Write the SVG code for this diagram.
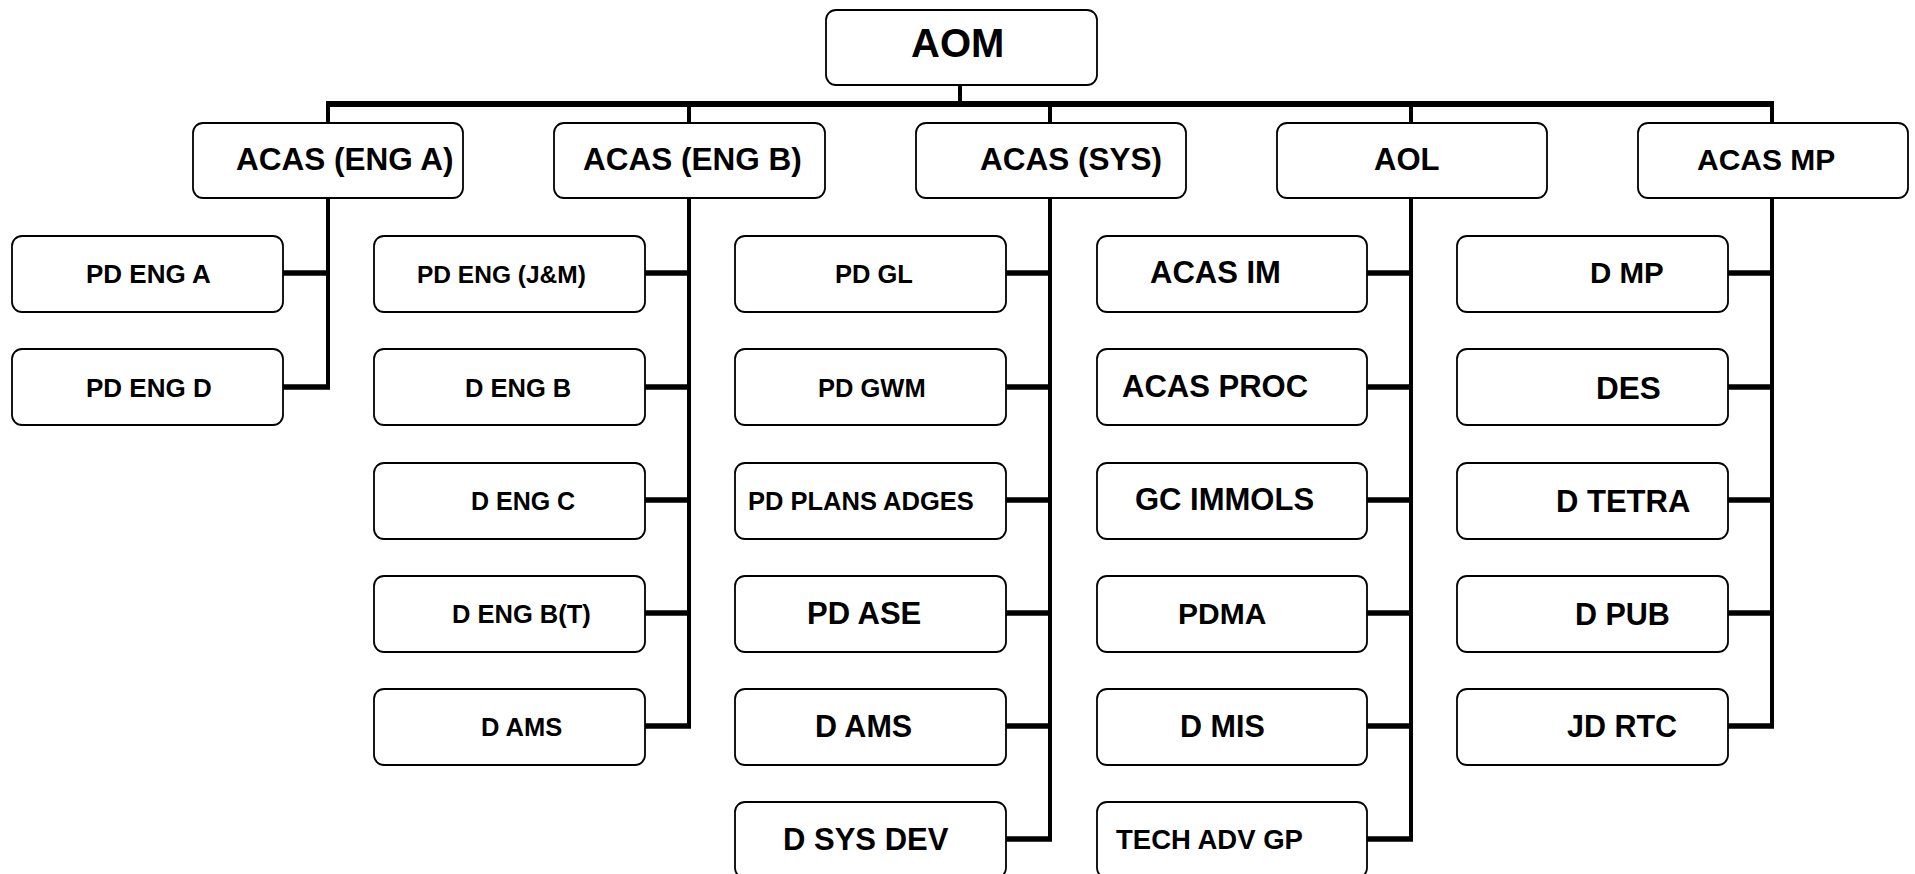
<svg xmlns="http://www.w3.org/2000/svg" width="1915" height="874" viewBox="0 0 1915 874">
<style>
.box{fill:#fff;stroke:#000;stroke-width:1.8}
.t{font-family:"Liberation Sans",Arial,sans-serif;font-weight:bold;fill:#000}
.bus{stroke:#000;stroke-width:6;fill:none}
.v{stroke:#000;stroke-width:4;fill:none}
.h{stroke:#000;stroke-width:5.5;fill:none}
</style>
<rect width="1915" height="874" fill="#fff"/>
<g id="connectors">
<line class="v" x1="960" y1="85" x2="960" y2="104"/>
<line class="bus" x1="326" y1="104" x2="1774" y2="104"/>
<line class="v" x1="328" y1="104" x2="328" y2="123"/>
<line class="v" x1="689" y1="104" x2="689" y2="123"/>
<line class="v" x1="1050" y1="104" x2="1050" y2="123"/>
<line class="v" x1="1411" y1="104" x2="1411" y2="123"/>
<line class="v" x1="1772" y1="104" x2="1772" y2="123"/>
<line class="v" x1="328" y1="198" x2="328" y2="389"/>
<line class="v" x1="689" y1="198" x2="689" y2="728"/>
<line class="v" x1="1050" y1="198" x2="1050" y2="841"/>
<line class="v" x1="1411" y1="198" x2="1411" y2="841"/>
<line class="v" x1="1772" y1="198" x2="1772" y2="728"/>
<line class="h" x1="283" y1="273" x2="330" y2="273"/>
<line class="h" x1="283" y1="387" x2="330" y2="387"/>
<line class="h" x1="645" y1="273" x2="691" y2="273"/>
<line class="h" x1="645" y1="387" x2="691" y2="387"/>
<line class="h" x1="645" y1="500" x2="691" y2="500"/>
<line class="h" x1="645" y1="613" x2="691" y2="613"/>
<line class="h" x1="645" y1="726" x2="691" y2="726"/>
<line class="h" x1="1006" y1="273" x2="1052" y2="273"/>
<line class="h" x1="1006" y1="387" x2="1052" y2="387"/>
<line class="h" x1="1006" y1="500" x2="1052" y2="500"/>
<line class="h" x1="1006" y1="613" x2="1052" y2="613"/>
<line class="h" x1="1006" y1="726" x2="1052" y2="726"/>
<line class="h" x1="1006" y1="839" x2="1052" y2="839"/>
<line class="h" x1="1367" y1="273" x2="1413" y2="273"/>
<line class="h" x1="1367" y1="387" x2="1413" y2="387"/>
<line class="h" x1="1367" y1="500" x2="1413" y2="500"/>
<line class="h" x1="1367" y1="613" x2="1413" y2="613"/>
<line class="h" x1="1367" y1="726" x2="1413" y2="726"/>
<line class="h" x1="1367" y1="839" x2="1413" y2="839"/>
<line class="h" x1="1728" y1="273" x2="1774" y2="273"/>
<line class="h" x1="1728" y1="387" x2="1774" y2="387"/>
<line class="h" x1="1728" y1="500" x2="1774" y2="500"/>
<line class="h" x1="1728" y1="613" x2="1774" y2="613"/>
<line class="h" x1="1728" y1="726" x2="1774" y2="726"/>
</g>
<g id="aom"><rect class="box" x="826" y="10" width="271" height="75" rx="10"/><text class="t" x="911" y="57" font-size="40">AOM</text></g>
<g id="acas-eng-a"><rect class="box" x="193" y="123" width="270" height="75" rx="10"/><text class="t" x="236" y="170" font-size="31.5">ACAS (ENG A)</text></g>
<g id="acas-eng-b"><rect class="box" x="554" y="123" width="271" height="75" rx="10"/><text class="t" x="583" y="170" font-size="31.5">ACAS (ENG B)</text></g>
<g id="acas-sys"><rect class="box" x="916" y="123" width="270" height="75" rx="10"/><text class="t" x="980" y="170" font-size="31.5">ACAS (SYS)</text></g>
<g id="aol"><rect class="box" x="1277" y="123" width="270" height="75" rx="10"/><text class="t" x="1374" y="170" font-size="31">AOL</text></g>
<g id="acas-mp"><rect class="box" x="1638" y="123" width="270" height="75" rx="10"/><text class="t" x="1697" y="170" font-size="30">ACAS MP</text></g>

<g id="pd-eng-a"><rect class="box" x="12" y="236" width="271" height="76" rx="10"/><text class="t" x="86" y="283" font-size="26">PD ENG A</text></g>
<g id="pd-eng-d"><rect class="box" x="12" y="349" width="271" height="76" rx="10"/><text class="t" x="86" y="397" font-size="26">PD ENG D</text></g>

<g id="pd-eng-jm"><rect class="box" x="374" y="236" width="271" height="76" rx="10"/><text class="t" x="417" y="283" font-size="24.5">PD ENG (J&amp;M)</text></g>
<g id="d-eng-b"><rect class="box" x="374" y="349" width="271" height="76" rx="10"/><text class="t" x="465" y="397" font-size="25.5">D ENG B</text></g>
<g id="d-eng-c"><rect class="box" x="374" y="463" width="271" height="76" rx="10"/><text class="t" x="471" y="510" font-size="25">D ENG C</text></g>
<g id="d-eng-bt"><rect class="box" x="374" y="576" width="271" height="76" rx="10"/><text class="t" x="452" y="623" font-size="25.5">D ENG B(T)</text></g>
<g id="d-ams-b"><rect class="box" x="374" y="689" width="271" height="76" rx="10"/><text class="t" x="481" y="736" font-size="25.5">D AMS</text></g>

<g id="pd-gl"><rect class="box" x="735" y="236" width="271" height="76" rx="10"/><text class="t" x="835" y="283" font-size="25.5">PD GL</text></g>
<g id="pd-gwm"><rect class="box" x="735" y="349" width="271" height="76" rx="10"/><text class="t" x="818" y="397" font-size="25.5">PD GWM</text></g>
<g id="pd-plans-adges"><rect class="box" x="735" y="463" width="271" height="76" rx="10"/><text class="t" x="748" y="510" font-size="25.5">PD PLANS ADGES</text></g>
<g id="pd-ase"><rect class="box" x="735" y="576" width="271" height="76" rx="10"/><text class="t" x="807" y="624" font-size="31">PD ASE</text></g>
<g id="d-ams-sys"><rect class="box" x="735" y="689" width="271" height="76" rx="10"/><text class="t" x="815" y="737" font-size="30.5">D AMS</text></g>
<g id="d-sys-dev"><rect class="box" x="735" y="802" width="271" height="76" rx="10"/><text class="t" x="783" y="850" font-size="31">D SYS DEV</text></g>

<g id="acas-im"><rect class="box" x="1097" y="236" width="270" height="76" rx="10"/><text class="t" x="1150" y="283" font-size="31">ACAS IM</text></g>
<g id="acas-proc"><rect class="box" x="1097" y="349" width="270" height="76" rx="10"/><text class="t" x="1122" y="397" font-size="31">ACAS PROC</text></g>
<g id="gc-immols"><rect class="box" x="1097" y="463" width="270" height="76" rx="10"/><text class="t" x="1135" y="510" font-size="31">GC IMMOLS</text></g>
<g id="pdma"><rect class="box" x="1097" y="576" width="270" height="76" rx="10"/><text class="t" x="1178" y="624" font-size="30">PDMA</text></g>
<g id="d-mis"><rect class="box" x="1097" y="689" width="270" height="76" rx="10"/><text class="t" x="1180" y="737" font-size="30.5">D MIS</text></g>
<g id="tech-adv-gp"><rect class="box" x="1097" y="802" width="270" height="76" rx="10"/><text class="t" x="1116" y="849" font-size="27.5">TECH ADV GP</text></g>

<g id="d-mp"><rect class="box" x="1457" y="236" width="271" height="76" rx="10"/><text class="t" x="1590" y="283" font-size="29.5">D MP</text></g>
<g id="des"><rect class="box" x="1457" y="349" width="271" height="76" rx="10"/><text class="t" x="1596" y="399" font-size="31.5">DES</text></g>
<g id="d-tetra"><rect class="box" x="1457" y="463" width="271" height="76" rx="10"/><text class="t" x="1556" y="512" font-size="31">D TETRA</text></g>
<g id="d-pub"><rect class="box" x="1457" y="576" width="271" height="76" rx="10"/><text class="t" x="1575" y="625" font-size="30.5">D PUB</text></g>
<g id="jd-rtc"><rect class="box" x="1457" y="689" width="271" height="76" rx="10"/><text class="t" x="1567" y="737" font-size="30.5">JD RTC</text></g>
</svg>
